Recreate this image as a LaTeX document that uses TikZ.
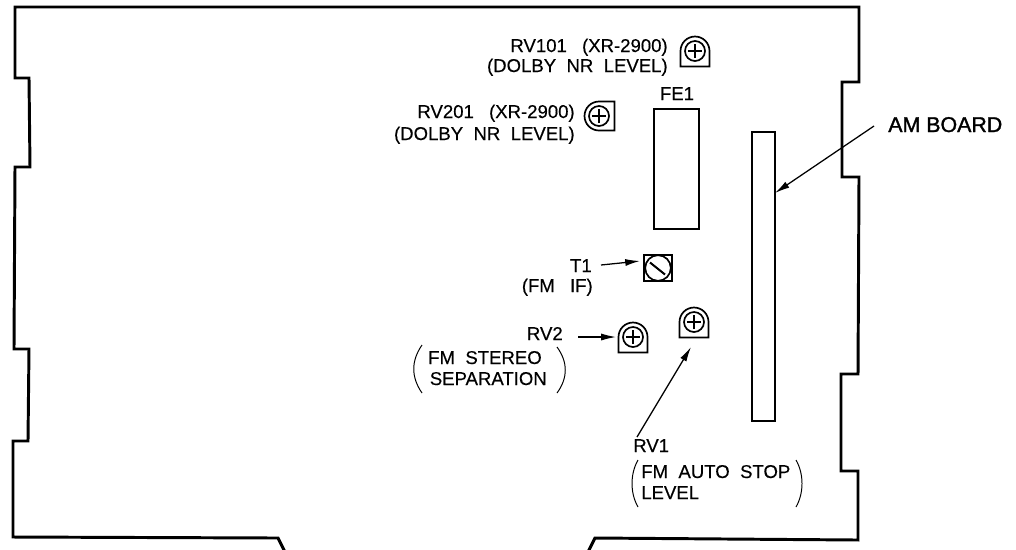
\documentclass[tikz,border=0pt]{standalone}
\usepackage{fontspec}
\usepackage{tikz}
\usetikzlibrary{arrows.meta}
\newfontfamily\labelfont[FakeBold=.3]{Liberation Sans}
\newfontfamily\boardfont[FakeBold=1.4]{Liberation Sans}
\newcommand{\gap}{\hspace{.56em}}
\newcommand{\widegap}{\hspace{.82em}}
\tikzset{
  outline/.style={line width=2.1pt,line join=miter},
  part/.style={line width=1.2pt},
  lbl/.style={inner sep=0pt,font=\labelfont\fontsize{13.2}{15}\selectfont},
  pointer/.style={line width=.9pt,-{Latex[length=10.5pt,width=5pt]}},
  brace/.style={line width=.7pt}
}
\begin{document}
\begin{tikzpicture}
  [x=.025cm,y=-.025cm]
  \useasboundingbox (0,0) rectangle (1016,549);

  % board
  \draw[outline] (285,552) -- (278,538) -- (13,537) -- (13,441) -- (28,441) -- (29,349)
    -- (14,349) -- (15,167) -- (30,167) -- (29,78) -- (15,78) -- (15,7) -- (859,7)
    -- (859,82) -- (842,82) -- (842,177) -- (859,177) -- (858,374) -- (841,374)
    -- (841,471) -- (858,471) -- (858,540) -- (595,538) -- (588,552);

  % boards and adjusters
  \node[part,draw,minimum width=1.125cm,minimum height=3cm,inner sep=0pt] (fe1) at (676.5,169) {};
  \node[part,draw,minimum width=.58cm,minimum height=7.23cm,inner sep=0pt] (am) at (763.5,276.5) {};
  \node[part,draw,minimum width=.7cm,minimum height=.65cm,inner sep=0pt] (t1) at (658,268) {};
  \node[part,draw,circle,minimum size=.64cm,inner sep=0pt] (t1knob) at (658,268) {};
  \draw[line width=1.4pt] (650,262.5) -- (665,274.5);

  \foreach \name/\cx/\cy/\rot in {rv101/695/51/0,rv201/599/116/90,rv2/633/337/0,rv1/694/322/0}
    {
    \begin{scope}[shift={(\cx,\cy)},rotate=\rot]
      \draw[part] (-14.5,15.5) -- (14.5,15.5) -- (14.5,0) arc (0:-180:14.5) -- cycle;
    \end{scope}
    \node[part,draw,circle,minimum size=.5cm,inner sep=0pt] (\name) at (\cx,\cy) {};
    \draw[part] ([xshift=-.18cm]\name.center) -- ([xshift=.18cm]\name.center);
    \draw[part] ([yshift=-.18cm]\name.center) -- ([yshift=.18cm]\name.center);
    }

  % labels
  \node[lbl,anchor=base east] (rv101a) at (668,52) {RV101\widegap(XR-2900)};
  \node[lbl,anchor=base east] (rv101b) at (668,72) {(DOLBY\gap NR\gap LEVEL)};
  \node[lbl,anchor=base east] (rv201a) at (575,118) {RV201\widegap(XR-2900)};
  \node[lbl,anchor=base east] (rv201b) at (575,140) {(DOLBY\gap NR\gap LEVEL)};
  \node[lbl,anchor=base] (fe1lbl) at (677,100) {FE1};
  \node[lbl,anchor=base east] (t1a) at (592,272) {T1};
  \node[lbl,anchor=base east] (t1b) at (593,292) {(FM\widegap IF)};
  \node[lbl,anchor=base east] (rv2a) at (563,340) {RV2};
  \node[lbl,anchor=base east] (rv2b) at (542,364) {FM\gap STEREO};
  \node[lbl,anchor=base east] (rv2c) at (547,385) {SEPARATION};
  \node[lbl,anchor=base west] (rv1a) at (633,452) {RV1};
  \node[lbl,anchor=base west] (rv1b) at (641,478) {FM\gap AUTO\gap STOP};
  \node[lbl,anchor=base west] (rv1c) at (641,499) {LEVEL};
  \node[inner sep=0pt,anchor=base west,font=\boardfont\fontsize{15.2}{17}\selectfont] (amlbl) at (888,132) {AM BOARD};

  % brackets
  \draw[brace] (422,345) .. controls (411,361) and (411,377) .. (422,393);
  \draw[brace] (557,347) .. controls (568,362) and (568,378) .. (557,393);
  \draw[brace] (638,460) .. controls (630,474) and (630,493) .. (638,507);
  \draw[brace] (796,460) .. controls (804,474) and (804,493) .. (796,507);

  % arrows
  \coordinate (t1from) at (601,265);
  \coordinate (t1to) at (640,261);
  \coordinate (rv2from) at (578,337);
  \coordinate (rv2to) at (616,337);
  \coordinate (rv1from) at (637,437);
  \coordinate (rv1to) at (691,347);
  \coordinate (amfrom) at (874,126);
  \coordinate (amto) at (775,193);
  \foreach \from/\to in {t1from/t1to,rv2from/rv2to,rv1from/rv1to,amfrom/amto}
    \draw[pointer] (\from) -- (\to);

\end{tikzpicture}
\end{document}
